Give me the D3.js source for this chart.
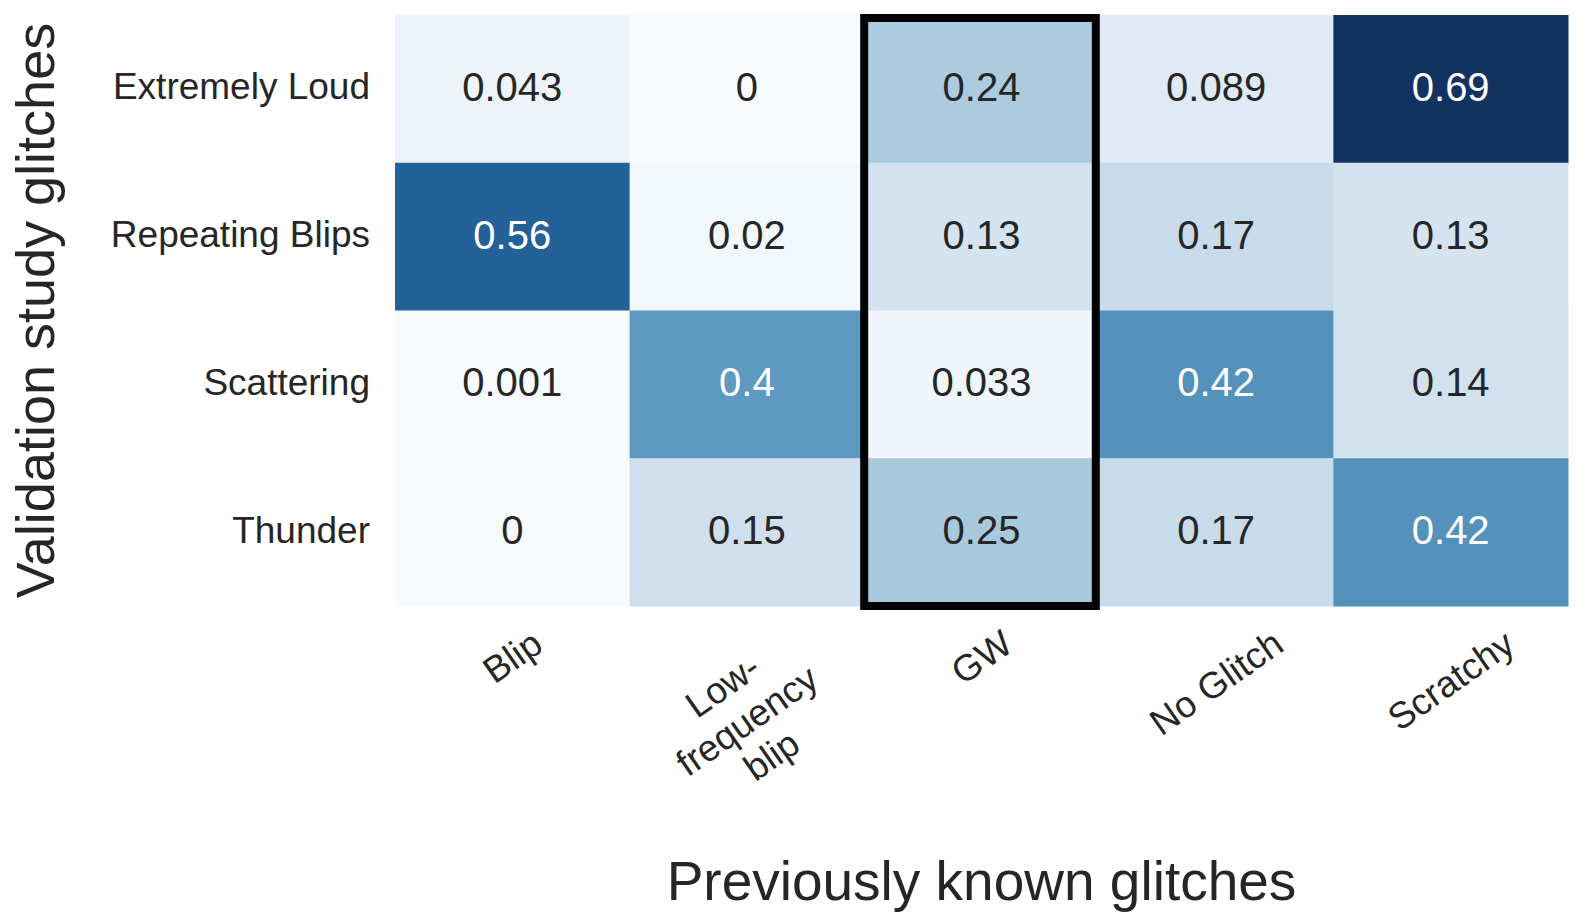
<!DOCTYPE html>
<html>
<head>
<meta charset="utf-8">
<script src="https://cdn.jsdelivr.net/npm/d3@7"></script>
<style>
  html, body { margin: 0; padding: 0; background: #fff; }
  svg { display: block; font-family: "Liberation Sans", Arial, sans-serif; }
</style>
</head>
<body>
<svg id="chart" width="1580" height="924"></svg>
<script>
  const rows = ["Extremely Loud", "Repeating Blips", "Scattering", "Thunder"];
  const cols = ["Blip", "Low-frequency blip", "GW", "No Glitch", "Scratchy"];
  const colLabels = [["Blip"], ["Low-", "frequency", "blip"], ["GW"], ["No Glitch"], ["Scratchy"]];
  const extremelyLoud = [0.043, 0, 0.24, 0.089, 0.69];
  const repeatingBlips = [0.56, 0.02, 0.13, 0.17, 0.13];
  const scattering = [0.001, 0.4, 0.033, 0.42, 0.14];
  const thunder = [0, 0.15, 0.25, 0.17, 0.42];
  const values = [extremelyLoud, repeatingBlips, scattering, thunder];
  const highlight = "GW";

  const svg = d3.select("#chart");
  const margin = { top: 15, right: 12, bottom: 318, left: 395 };
  const width = 1580 - margin.left - margin.right;
  const height = 924 - margin.top - margin.bottom;
  const ink = "#262626";

  const x = d3.scaleBand().domain(cols).range([0, width]);
  const y = d3.scaleBand().domain(rows).range([0, height]);
  // Blues, a little softer than the stock scheme
  const softBlues = (t) => {
    const c = d3.hsl(d3.interpolateBlues(t));
    c.s *= 0.8;
    return c.formatHex();
  };
  const color = d3.scaleSequential(softBlues).domain([0, 0.69]);

  const cells = [];
  rows.forEach((r, i) => cols.forEach((c, j) => cells.push({ row: r, col: c, value: values[i][j] })));

  const g = svg.append("g").attr("transform", `translate(${margin.left},${margin.top})`);

  g.append("g")
    .selectAll("rect")
    .data(cells)
    .join("rect")
    .attr("x", (d) => x(d.col))
    .attr("y", (d) => y(d.row))
    .attr("width", x.bandwidth() + 0.5)
    .attr("height", y.bandwidth() + 0.5)
    .attr("fill", (d) => color(d.value));

  g.append("g")
    .selectAll("text")
    .data(cells)
    .join("text")
    .attr("x", (d) => x(d.col) + x.bandwidth() / 2)
    .attr("y", (d) => y(d.row) + y.bandwidth() / 2 - 2)
    .attr("text-anchor", "middle")
    .attr("dominant-baseline", "central")
    .attr("font-size", 40)
    .attr("fill", (d) => (d.value > 0.3 ? "#ffffff" : ink))
    .text((d) => d3.format("")(d.value));

  // highlight box around the GW column
  g.append("rect")
    .attr("x", x(highlight))
    .attr("y", 3)
    .attr("width", x.bandwidth() - 3)
    .attr("height", height - 3)
    .attr("fill", "none")
    .attr("stroke", "#000")
    .attr("stroke-width", 8);

  // y tick labels
  g.append("g")
    .selectAll("text")
    .data(rows)
    .join("text")
    .attr("x", -25)
    .attr("y", (d) => y(d) + y.bandwidth() / 2 - 2)
    .attr("text-anchor", "end")
    .attr("dominant-baseline", "central")
    .attr("font-size", 37)
    .attr("fill", ink)
    .text((d) => d);

  // x tick labels, rotated, box top aligned below the axis
  const boxTop = height + 16;
  const xt = g.append("g");
  cols.forEach((c, i) => {
    const lab = xt.append("g");
    const t = lab.append("text")
      .attr("text-anchor", "middle")
      .attr("font-size", 37)
      .attr("fill", ink)
      .attr("transform", "rotate(-35)");
    colLabels[i].forEach((line, k) => {
      t.append("tspan")
        .attr("x", 0)
        .attr("dy", k === 0 ? "0.35em" : "1.15em")
        .text(line);
    });
    const n = colLabels[i].length;
    t.attr("y", -((n - 1) * 1.15 * 37) / 2);
    const bb = t.node().getBBox();
    const a = 35 * Math.PI / 180;
    const hh = bb.width * Math.sin(a) / 2 + bb.height * Math.cos(a) / 2;
    lab.attr("transform", `translate(${x(c) + x.bandwidth() / 2},${boxTop + hh})`);
  });

  // axis titles
  svg.append("text")
    .attr("x", margin.left + width / 2)
    .attr("y", 900)
    .attr("text-anchor", "middle")
    .attr("font-size", 55)
    .attr("fill", ink)
    .text("Previously known glitches");

  svg.append("text")
    .attr("transform", `translate(54,${margin.top + height / 2}) rotate(-90)`)
    .attr("text-anchor", "middle")
    .attr("font-size", 54)
    .attr("fill", ink)
    .text("Validation study glitches");
</script>
</body>
</html>
